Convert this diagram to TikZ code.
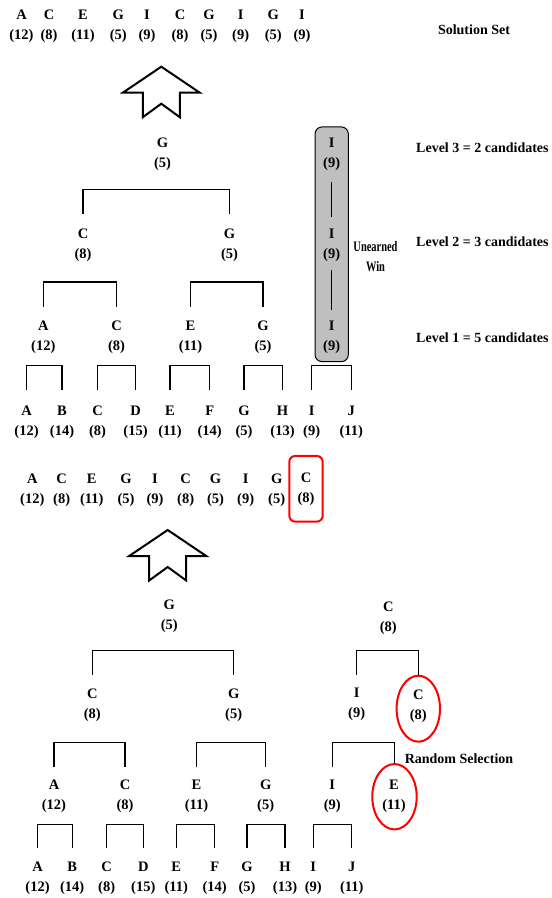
\documentclass[tikz,border=0pt]{standalone}
\usepackage{fontspec}
\setmainfont{Liberation Serif}
\newfontfamily\narrowfont[FakeStretch=0.72]{Liberation Serif}
\usetikzlibrary{shapes.geometric}
\tikzset{
  lbl/.style={font=\fontsize{14.5}{20}\selectfont\bfseries, align=center, inner sep=0pt, yshift=-2pt},
  side/.style={font=\fontsize{14}{20}\selectfont\bfseries, inner sep=0pt},
  link/.style={line width=1.1pt, black},
  bigarrow/.style={line width=2pt, line join=miter},
  redmark/.style={draw=red, line width=2pt},
  uparrow/.pic={\draw[bigarrow] (0,0) -- (38.5,26) -- (18.5,26) -- (18.5,50.5) -- (0,37) -- (-18.5,50.5) -- (-18.5,26) -- (-38.5,26) -- cycle;}
}
\newcommand\mybrk[4]{\draw[link] (#1 |- 0,#4) -- (#1 |- 0,#3) -- (#2 |- 0,#3) -- (#2 |- 0,#4);}
\begin{document}
\begin{tikzpicture}[x=1pt,y=-1pt]
\useasboundingbox (0,0) rectangle (552,898);

% ---- solution set row
\node[lbl] (s1) at (21.5,24) {A\\(12)};
\node[lbl] (s2) at (49,24) {C\\(8)};
\node[lbl] (s3) at (83,24) {E\\(11)};
\node[lbl] (s4) at (118.3,24) {G\\(5)};
\node[lbl] (s5) at (147,24) {I\\(9)};
\node[lbl] (s6) at (180,24) {C\\(8)};
\node[lbl] (s7) at (209,24) {G\\(5)};
\node[lbl] (s8) at (240.7,24) {I\\(9)};
\node[lbl] (s9) at (273.3,24) {G\\(5)};
\node[lbl] (s10) at (302,24) {I\\(9)};
\node[side] (soltxt) at (474,29.3) {Solution Set};

\pic at (161.3,66.7) {uparrow};

% ---- tree 1
\node[lbl] (a3) at (162.5,152) {G\\(5)};
\node[lbl] (a2l) at (83,243) {C\\(8)};
\node[lbl] (a2r) at (229.5,243) {G\\(5)};
\node[lbl] (a1a) at (43.3,335.5) {A\\(12)};
\node[lbl] (a1c) at (116.5,335.5) {C\\(8)};
\node[lbl] (a1e) at (190.5,335.5) {E\\(11)};
\node[lbl] (a1g) at (263,335.5) {G\\(5)};

\node[lbl] (la) at (26.5,420) {A\\(12)};
\node[lbl] (lb) at (62,420) {B\\(14)};
\node[lbl] (lc) at (97.5,420) {C\\(8)};
\node[lbl] (ld) at (135.5,420) {D\\(15)};
\node[lbl] (le) at (170,420) {E\\(11)};
\node[lbl] (lf) at (209.7,420) {F\\(14)};
\node[lbl] (lg) at (244,420) {G\\(5)};
\node[lbl] (lh) at (282.5,420) {H\\(13)};
\node[lbl] (li) at (311.7,420) {I\\(9)};
\node[lbl] (lj) at (351.2,420) {J\\(11)};

\mybrk{a2l}{a2r}{189.3}{214.3}
\mybrk{a1a}{a1c}{282}{307}
\mybrk{a1e}{a1g}{282}{307}
\mybrk{la}{lb}{365.7}{390}
\mybrk{lc}{ld}{365.7}{390}
\mybrk{le}{lf}{365.7}{390}
\mybrk{lg}{lh}{365.7}{390}
\mybrk{li}{lj}{365.7}{390}

% unearned win column
\node[draw, line width=1pt, fill=black!25, rounded corners=7pt, minimum width=33.3pt, minimum height=234.7pt, inner sep=0pt] (ubox) at (331.7,244.3) {};
\node[lbl] (u3) at (331.7,152.3) {I\\(9)};
\node[lbl] (u2) at (331.7,243) {I\\(9)};
\node[lbl] (u1) at (331.7,335.5) {I\\(9)};
\draw[line width=0.8pt, shorten <=11pt, shorten >=12pt] (u3) -- (u2);
\draw[line width=0.8pt, shorten <=9pt, shorten >=11pt] (u2) -- (u1);
\node[font=\narrowfont\fontsize{14.5}{20}\selectfont\bfseries, align=center, inner sep=0pt] (uw) at (375.5,257) {Unearned\\Win};

\node[side, anchor=west] (lv3) at (416,148) {Level 3 = 2 candidates};
\node[side, anchor=west] (lv2) at (416,241.5) {Level 2 = 3 candidates};
\node[side, anchor=west] (lv1) at (416,338) {Level 1 = 5 candidates};

% ---- second row
\node[lbl] (r1) at (32.3,488.3) {A\\(12)};
\node[lbl] (r2) at (61.7,488.3) {C\\(8)};
\node[lbl] (r3) at (91.7,488.3) {E\\(11)};
\node[lbl] (r4) at (126,488.3) {G\\(5)};
\node[lbl] (r5) at (155,488.3) {I\\(9)};
\node[lbl] (r6) at (185.7,488.3) {C\\(8)};
\node[lbl] (r7) at (215.5,488.3) {G\\(5)};
\node[lbl] (r8) at (245.7,488.3) {I\\(9)};
\node[lbl] (r9) at (276.7,488.3) {G\\(5)};
\node[lbl, redmark, rounded corners=6pt, minimum width=33.4pt, minimum height=65.7pt] (r10) at (306,486.8) {C\\(8)};

\pic at (167.7,530) {uparrow};

% ---- tree 2
\node[lbl] (b3) at (169.3,614.2) {G\\(5)};
\node[lbl] (b2l) at (92.3,702.8) {C\\(8)};
\node[lbl] (b2r) at (233.7,702.8) {G\\(5)};
\node[lbl] (b1a) at (54,794.7) {A\\(12)};
\node[lbl] (b1c) at (125,794.7) {C\\(8)};
\node[lbl] (b1e) at (196.5,794.7) {E\\(11)};
\node[lbl] (b1g) at (265.7,794.7) {G\\(5)};

\node[lbl] (ma) at (37.5,876.3) {A\\(12)};
\node[lbl] (mb) at (72.2,876.3) {B\\(14)};
\node[lbl] (mc) at (106.7,876.3) {C\\(8)};
\node[lbl] (md) at (143.3,876.3) {D\\(15)};
\node[lbl] (me) at (176.3,876.3) {E\\(11)};
\node[lbl] (mf) at (214.7,876.3) {F\\(14)};
\node[lbl] (mg) at (247,876.3) {G\\(5)};
\node[lbl] (mh) at (285,876.3) {H\\(13)};
\node[lbl] (mi) at (313.3,876.3) {I\\(9)};
\node[lbl] (mj) at (351.7,876.3) {J\\(11)};

\mybrk{b2l}{b2r}{650.7}{675}
\mybrk{b1a}{b1c}{742.7}{767.3}
\mybrk{b1e}{b1g}{742.7}{767.3}
\mybrk{ma}{mb}{824.3}{848.3}
\mybrk{mc}{md}{824.3}{848.3}
\mybrk{me}{mf}{824.3}{848.3}
\mybrk{mg}{mh}{824.3}{848.3}
\mybrk{mi}{mj}{824.3}{848.3}

% right tree
\node[lbl] (c3) at (388.3,616.2) {C\\(8)};
\node[lbl] (c2l) at (356.7,702.5) {I\\(9)};
\node[lbl] (c2r) at (418.3,704.7) {C\\(8)};
\node[ellipse, redmark, minimum width=43.4pt, minimum height=66pt, inner sep=0pt] (e2) at (418.3,708.7) {};
\node[lbl] (c1l) at (332.3,794.7) {I\\(9)};
\node[lbl] (c1r) at (394,794.7) {E\\(11)};
\node[ellipse, redmark, minimum width=44.4pt, minimum height=65.4pt, inner sep=0pt] (e1) at (394.5,796.7) {};

\draw[link] (c2l |- 0,675) -- (c2l |- 0,650.7) -- (e2.north |- 0,650.7) -- (e2.north);
\draw[link] (c1l |- 0,767.3) -- (c1l |- 0,742.7) -- (e1.north |- 0,742.7) -- (e1.north);

\node[side] (randsel) at (459,758.3) {Random Selection};
\end{tikzpicture}
\end{document}
